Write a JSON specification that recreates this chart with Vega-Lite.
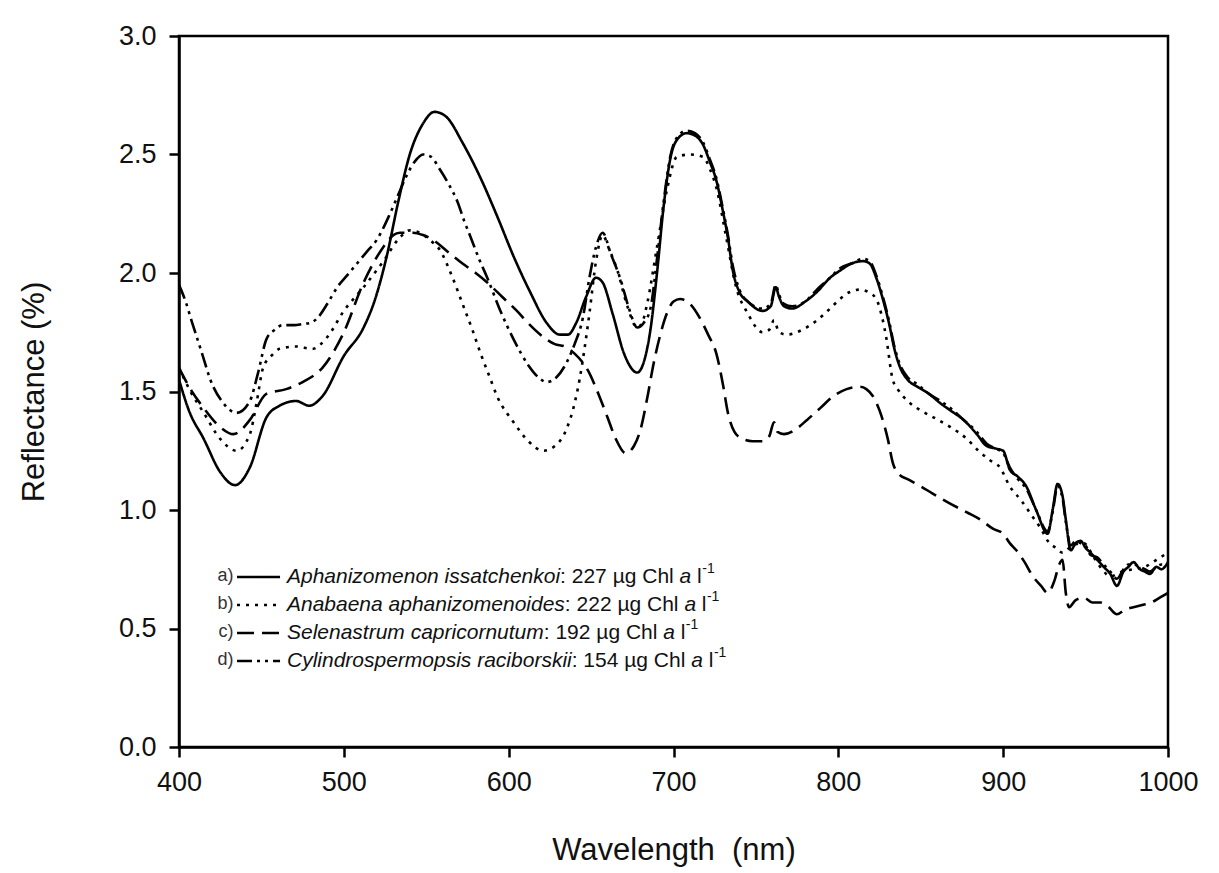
{
  "$schema": "https://vega.github.io/schema/vega-lite/v6.json",
  "autosize": "none",
  "width": 989,
  "height": 711,
  "padding": {"left": 179, "top": 36, "right": 51, "bottom": 126},
  "background": "white",
  "config": {
    "view": {"stroke": "black", "strokeWidth": 2.5},
    "font": "Liberation Sans",
    "axis": {"grid": false, "domainColor": "black", "domainWidth": 2.5, "tickColor": "black", "tickWidth": 2.5, "tickSize": 10, "labelColor": "#111", "labelFont": "Liberation Sans", "labelFontSize": 27, "labelFlush": false, "titleFont": "Liberation Sans", "titleFontSize": 31, "titleFontWeight": "normal", "titleColor": "#111"}
  },
  "datasets": {
    "curves": [
      {"s":"a","w":400,"r":1.55},{"s":"a","w":406,"r":1.42},{"s":"a","w":415,"r":1.30},{"s":"a","w":425,"r":1.16},{"s":"a","w":434,"r":1.105},{"s":"a","w":443,"r":1.18},{"s":"a","w":453,"r":1.39},{"s":"a","w":461,"r":1.44},{"s":"a","w":471,"r":1.46},{"s":"a","w":479,"r":1.44},{"s":"a","w":487,"r":1.48},{"s":"a","w":500,"r":1.65},{"s":"a","w":512,"r":1.77},{"s":"a","w":519,"r":1.89},{"s":"a","w":526,"r":2.07},{"s":"a","w":533,"r":2.30},{"s":"a","w":540,"r":2.50},{"s":"a","w":548,"r":2.63},{"s":"a","w":555,"r":2.68},{"s":"a","w":562,"r":2.66},{"s":"a","w":572,"r":2.55},{"s":"a","w":583,"r":2.40},{"s":"a","w":593,"r":2.24},{"s":"a","w":603,"r":2.07},{"s":"a","w":613,"r":1.92},{"s":"a","w":623,"r":1.79},{"s":"a","w":631,"r":1.74},{"s":"a","w":636,"r":1.74},{"s":"a","w":641,"r":1.79},{"s":"a","w":647,"r":1.90},{"s":"a","w":653,"r":1.98},{"s":"a","w":657,"r":1.96},{"s":"a","w":663,"r":1.83},{"s":"a","w":670,"r":1.66},{"s":"a","w":678,"r":1.58},{"s":"a","w":683,"r":1.65},{"s":"a","w":686,"r":1.76},{"s":"a","w":690,"r":2.00},{"s":"a","w":694,"r":2.28},{"s":"a","w":698,"r":2.48},{"s":"a","w":703,"r":2.57},{"s":"a","w":708,"r":2.59},{"s":"a","w":713,"r":2.58},{"s":"a","w":718,"r":2.54},{"s":"a","w":722,"r":2.47},{"s":"a","w":726,"r":2.39},{"s":"a","w":730,"r":2.26},{"s":"a","w":733,"r":2.15},{"s":"a","w":736,"r":2.01},{"s":"a","w":740,"r":1.92},{"s":"a","w":745,"r":1.88},{"s":"a","w":754,"r":1.84},{"s":"a","w":759,"r":1.86},{"s":"a","w":762,"r":1.94},{"s":"a","w":764,"r":1.90},{"s":"a","w":767,"r":1.86},{"s":"a","w":772,"r":1.85},{"s":"a","w":780,"r":1.88},{"s":"a","w":787,"r":1.92},{"s":"a","w":795,"r":1.98},{"s":"a","w":801,"r":2.01},{"s":"a","w":808,"r":2.04},{"s":"a","w":815,"r":2.05},{"s":"a","w":819,"r":2.04},{"s":"a","w":823,"r":1.98},{"s":"a","w":827,"r":1.89},{"s":"a","w":831,"r":1.78},{"s":"a","w":834,"r":1.68},{"s":"a","w":837,"r":1.61},{"s":"a","w":842,"r":1.55},{"s":"a","w":848,"r":1.52},{"s":"a","w":855,"r":1.49},{"s":"a","w":862,"r":1.45},{"s":"a","w":868,"r":1.42},{"s":"a","w":876,"r":1.38},{"s":"a","w":884,"r":1.32},{"s":"a","w":890,"r":1.27},{"s":"a","w":895,"r":1.26},{"s":"a","w":900,"r":1.25},{"s":"a","w":904,"r":1.17},{"s":"a","w":909,"r":1.14},{"s":"a","w":914,"r":1.10},{"s":"a","w":920,"r":1.00},{"s":"a","w":927,"r":0.90},{"s":"a","w":930,"r":1.00},{"s":"a","w":933,"r":1.11},{"s":"a","w":936,"r":1.06},{"s":"a","w":938,"r":0.96},{"s":"a","w":941,"r":0.83},{"s":"a","w":944,"r":0.86},{"s":"a","w":947,"r":0.87},{"s":"a","w":950,"r":0.84},{"s":"a","w":953,"r":0.82},{"s":"a","w":957,"r":0.79},{"s":"a","w":961,"r":0.76},{"s":"a","w":965,"r":0.73},{"s":"a","w":969,"r":0.68},{"s":"a","w":973,"r":0.74},{"s":"a","w":976,"r":0.76},{"s":"a","w":979,"r":0.78},{"s":"a","w":983,"r":0.75},{"s":"a","w":986,"r":0.74},{"s":"a","w":989,"r":0.73},{"s":"a","w":993,"r":0.76},{"s":"a","w":996,"r":0.75},{"s":"a","w":1000,"r":0.78},
      {"s":"b","w":400,"r":1.60},{"s":"b","w":407,"r":1.50},{"s":"b","w":415,"r":1.41},{"s":"b","w":425,"r":1.30},{"s":"b","w":435,"r":1.25},{"s":"b","w":443,"r":1.32},{"s":"b","w":447,"r":1.45},{"s":"b","w":451,"r":1.60},{"s":"b","w":456,"r":1.65},{"s":"b","w":461,"r":1.68},{"s":"b","w":471,"r":1.69},{"s":"b","w":481,"r":1.68},{"s":"b","w":490,"r":1.73},{"s":"b","w":500,"r":1.84},{"s":"b","w":512,"r":1.94},{"s":"b","w":524,"r":2.05},{"s":"b","w":534,"r":2.15},{"s":"b","w":540,"r":2.18},{"s":"b","w":546,"r":2.17},{"s":"b","w":552,"r":2.14},{"s":"b","w":558,"r":2.10},{"s":"b","w":566,"r":1.98},{"s":"b","w":572,"r":1.87},{"s":"b","w":578,"r":1.76},{"s":"b","w":583,"r":1.66},{"s":"b","w":588,"r":1.57},{"s":"b","w":593,"r":1.48},{"s":"b","w":603,"r":1.37},{"s":"b","w":612,"r":1.29},{"s":"b","w":621,"r":1.25},{"s":"b","w":628,"r":1.27},{"s":"b","w":635,"r":1.34},{"s":"b","w":640,"r":1.45},{"s":"b","w":643,"r":1.55},{"s":"b","w":646,"r":1.68},{"s":"b","w":649,"r":1.83},{"s":"b","w":653,"r":2.05},{"s":"b","w":657,"r":2.16},{"s":"b","w":661,"r":2.10},{"s":"b","w":666,"r":2.01},{"s":"b","w":672,"r":1.86},{"s":"b","w":678,"r":1.77},{"s":"b","w":681,"r":1.79},{"s":"b","w":684,"r":1.87},{"s":"b","w":690,"r":2.11},{"s":"b","w":696,"r":2.35},{"s":"b","w":702,"r":2.49},{"s":"b","w":710,"r":2.50},{"s":"b","w":718,"r":2.49},{"s":"b","w":722,"r":2.44},{"s":"b","w":726,"r":2.36},{"s":"b","w":732,"r":2.15},{"s":"b","w":738,"r":1.94},{"s":"b","w":745,"r":1.83},{"s":"b","w":754,"r":1.75},{"s":"b","w":758,"r":1.76},{"s":"b","w":761,"r":1.80},{"s":"b","w":764,"r":1.75},{"s":"b","w":769,"r":1.74},{"s":"b","w":778,"r":1.76},{"s":"b","w":787,"r":1.80},{"s":"b","w":795,"r":1.85},{"s":"b","w":801,"r":1.89},{"s":"b","w":807,"r":1.92},{"s":"b","w":813,"r":1.93},{"s":"b","w":818,"r":1.92},{"s":"b","w":823,"r":1.89},{"s":"b","w":827,"r":1.80},{"s":"b","w":829,"r":1.73},{"s":"b","w":833,"r":1.55},{"s":"b","w":837,"r":1.50},{"s":"b","w":842,"r":1.46},{"s":"b","w":850,"r":1.42},{"s":"b","w":858,"r":1.39},{"s":"b","w":868,"r":1.35},{"s":"b","w":878,"r":1.30},{"s":"b","w":885,"r":1.25},{"s":"b","w":892,"r":1.21},{"s":"b","w":898,"r":1.18},{"s":"b","w":904,"r":1.10},{"s":"b","w":911,"r":1.04},{"s":"b","w":918,"r":0.97},{"s":"b","w":923,"r":0.92},{"s":"b","w":927,"r":0.87},{"s":"b","w":932,"r":0.84},{"s":"b","w":936,"r":0.82},{"s":"b","w":942,"r":0.85},{"s":"b","w":949,"r":0.86},{"s":"b","w":955,"r":0.80},{"s":"b","w":960,"r":0.75},{"s":"b","w":965,"r":0.72},{"s":"b","w":972,"r":0.74},{"s":"b","w":979,"r":0.75},{"s":"b","w":986,"r":0.76},{"s":"b","w":993,"r":0.79},{"s":"b","w":1000,"r":0.82},
      {"s":"c","w":400,"r":1.60},{"s":"c","w":407,"r":1.51},{"s":"c","w":415,"r":1.43},{"s":"c","w":425,"r":1.35},{"s":"c","w":433,"r":1.32},{"s":"c","w":443,"r":1.38},{"s":"c","w":453,"r":1.49},{"s":"c","w":465,"r":1.51},{"s":"c","w":475,"r":1.54},{"s":"c","w":487,"r":1.60},{"s":"c","w":500,"r":1.75},{"s":"c","w":512,"r":1.96},{"s":"c","w":524,"r":2.11},{"s":"c","w":530,"r":2.16},{"s":"c","w":534,"r":2.17},{"s":"c","w":542,"r":2.17},{"s":"c","w":548,"r":2.16},{"s":"c","w":554,"r":2.14},{"s":"c","w":563,"r":2.09},{"s":"c","w":572,"r":2.04},{"s":"c","w":580,"r":2.00},{"s":"c","w":587,"r":1.96},{"s":"c","w":596,"r":1.90},{"s":"c","w":605,"r":1.84},{"s":"c","w":613,"r":1.78},{"s":"c","w":621,"r":1.73},{"s":"c","w":628,"r":1.70},{"s":"c","w":634,"r":1.69},{"s":"c","w":640,"r":1.66},{"s":"c","w":648,"r":1.59},{"s":"c","w":655,"r":1.48},{"s":"c","w":660,"r":1.39},{"s":"c","w":665,"r":1.30},{"s":"c","w":671,"r":1.24},{"s":"c","w":676,"r":1.27},{"s":"c","w":680,"r":1.34},{"s":"c","w":684,"r":1.47},{"s":"c","w":688,"r":1.62},{"s":"c","w":692,"r":1.74},{"s":"c","w":696,"r":1.83},{"s":"c","w":700,"r":1.88},{"s":"c","w":704,"r":1.89},{"s":"c","w":710,"r":1.87},{"s":"c","w":716,"r":1.81},{"s":"c","w":721,"r":1.74},{"s":"c","w":726,"r":1.66},{"s":"c","w":730,"r":1.53},{"s":"c","w":733,"r":1.41},{"s":"c","w":737,"r":1.33},{"s":"c","w":742,"r":1.30},{"s":"c","w":748,"r":1.29},{"s":"c","w":754,"r":1.29},{"s":"c","w":758,"r":1.31},{"s":"c","w":761,"r":1.37},{"s":"c","w":763,"r":1.33},{"s":"c","w":767,"r":1.32},{"s":"c","w":774,"r":1.34},{"s":"c","w":781,"r":1.38},{"s":"c","w":789,"r":1.43},{"s":"c","w":797,"r":1.48},{"s":"c","w":805,"r":1.51},{"s":"c","w":813,"r":1.52},{"s":"c","w":817,"r":1.51},{"s":"c","w":821,"r":1.48},{"s":"c","w":826,"r":1.40},{"s":"c","w":830,"r":1.30},{"s":"c","w":833,"r":1.20},{"s":"c","w":837,"r":1.15},{"s":"c","w":842,"r":1.13},{"s":"c","w":850,"r":1.10},{"s":"c","w":857,"r":1.07},{"s":"c","w":867,"r":1.03},{"s":"c","w":878,"r":0.99},{"s":"c","w":886,"r":0.96},{"s":"c","w":894,"r":0.92},{"s":"c","w":900,"r":0.90},{"s":"c","w":904,"r":0.86},{"s":"c","w":908,"r":0.83},{"s":"c","w":913,"r":0.78},{"s":"c","w":918,"r":0.72},{"s":"c","w":923,"r":0.68},{"s":"c","w":927,"r":0.65},{"s":"c","w":931,"r":0.70},{"s":"c","w":934,"r":0.77},{"s":"c","w":936,"r":0.79},{"s":"c","w":938,"r":0.65},{"s":"c","w":940,"r":0.59},{"s":"c","w":944,"r":0.62},{"s":"c","w":949,"r":0.63},{"s":"c","w":954,"r":0.61},{"s":"c","w":959,"r":0.61},{"s":"c","w":964,"r":0.59},{"s":"c","w":969,"r":0.56},{"s":"c","w":974,"r":0.58},{"s":"c","w":979,"r":0.59},{"s":"c","w":985,"r":0.60},{"s":"c","w":990,"r":0.61},{"s":"c","w":995,"r":0.63},{"s":"c","w":1000,"r":0.65},
      {"s":"d","w":400,"r":1.95},{"s":"d","w":404,"r":1.88},{"s":"d","w":408,"r":1.79},{"s":"d","w":414,"r":1.66},{"s":"d","w":419,"r":1.55},{"s":"d","w":427,"r":1.45},{"s":"d","w":435,"r":1.41},{"s":"d","w":443,"r":1.46},{"s":"d","w":448,"r":1.58},{"s":"d","w":453,"r":1.72},{"s":"d","w":458,"r":1.76},{"s":"d","w":463,"r":1.78},{"s":"d","w":470,"r":1.78},{"s":"d","w":475,"r":1.785},{"s":"d","w":480,"r":1.79},{"s":"d","w":484,"r":1.81},{"s":"d","w":490,"r":1.87},{"s":"d","w":496,"r":1.94},{"s":"d","w":502,"r":1.99},{"s":"d","w":508,"r":2.04},{"s":"d","w":514,"r":2.09},{"s":"d","w":520,"r":2.14},{"s":"d","w":528,"r":2.25},{"s":"d","w":533,"r":2.33},{"s":"d","w":538,"r":2.41},{"s":"d","w":543,"r":2.47},{"s":"d","w":548,"r":2.50},{"s":"d","w":553,"r":2.49},{"s":"d","w":558,"r":2.44},{"s":"d","w":564,"r":2.37},{"s":"d","w":569,"r":2.30},{"s":"d","w":573,"r":2.22},{"s":"d","w":577,"r":2.15},{"s":"d","w":582,"r":2.06},{"s":"d","w":587,"r":1.98},{"s":"d","w":595,"r":1.84},{"s":"d","w":603,"r":1.72},{"s":"d","w":612,"r":1.61},{"s":"d","w":618,"r":1.56},{"s":"d","w":623,"r":1.54},{"s":"d","w":629,"r":1.56},{"s":"d","w":635,"r":1.62},{"s":"d","w":640,"r":1.70},{"s":"d","w":645,"r":1.81},{"s":"d","w":649,"r":1.98},{"s":"d","w":653,"r":2.11},{"s":"d","w":657,"r":2.17},{"s":"d","w":662,"r":2.08},{"s":"d","w":668,"r":1.97},{"s":"d","w":673,"r":1.85},{"s":"d","w":678,"r":1.77},{"s":"d","w":682,"r":1.79},{"s":"d","w":686,"r":1.85},{"s":"d","w":690,"r":2.06},{"s":"d","w":694,"r":2.30},{"s":"d","w":698,"r":2.49},{"s":"d","w":703,"r":2.58},{"s":"d","w":708,"r":2.60},{"s":"d","w":713,"r":2.59},{"s":"d","w":718,"r":2.55},{"s":"d","w":722,"r":2.48},{"s":"d","w":726,"r":2.40},{"s":"d","w":730,"r":2.27},{"s":"d","w":733,"r":2.16},{"s":"d","w":736,"r":2.03},{"s":"d","w":740,"r":1.93},{"s":"d","w":745,"r":1.88},{"s":"d","w":754,"r":1.85},{"s":"d","w":759,"r":1.87},{"s":"d","w":762,"r":1.95},{"s":"d","w":764,"r":1.91},{"s":"d","w":767,"r":1.87},{"s":"d","w":772,"r":1.86},{"s":"d","w":780,"r":1.88},{"s":"d","w":787,"r":1.93},{"s":"d","w":795,"r":1.98},{"s":"d","w":801,"r":2.02},{"s":"d","w":808,"r":2.04},{"s":"d","w":815,"r":2.06},{"s":"d","w":819,"r":2.05},{"s":"d","w":823,"r":1.99},{"s":"d","w":827,"r":1.90},{"s":"d","w":831,"r":1.79},{"s":"d","w":834,"r":1.69},{"s":"d","w":837,"r":1.62},{"s":"d","w":842,"r":1.56},{"s":"d","w":848,"r":1.53},{"s":"d","w":855,"r":1.49},{"s":"d","w":862,"r":1.46},{"s":"d","w":868,"r":1.43},{"s":"d","w":876,"r":1.38},{"s":"d","w":884,"r":1.33},{"s":"d","w":890,"r":1.28},{"s":"d","w":895,"r":1.26},{"s":"d","w":900,"r":1.24},{"s":"d","w":904,"r":1.18},{"s":"d","w":909,"r":1.13},{"s":"d","w":914,"r":1.09},{"s":"d","w":920,"r":1.00},{"s":"d","w":927,"r":0.91},{"s":"d","w":930,"r":0.99},{"s":"d","w":933,"r":1.10},{"s":"d","w":936,"r":1.05},{"s":"d","w":938,"r":0.95},{"s":"d","w":941,"r":0.85},{"s":"d","w":944,"r":0.87},{"s":"d","w":947,"r":0.86},{"s":"d","w":950,"r":0.85},{"s":"d","w":953,"r":0.81},{"s":"d","w":957,"r":0.80},{"s":"d","w":961,"r":0.77},{"s":"d","w":965,"r":0.74},{"s":"d","w":969,"r":0.71},{"s":"d","w":973,"r":0.75},{"s":"d","w":976,"r":0.77},{"s":"d","w":979,"r":0.77},{"s":"d","w":983,"r":0.76},{"s":"d","w":986,"r":0.75},{"s":"d","w":989,"r":0.74},{"s":"d","w":993,"r":0.76},{"s":"d","w":996,"r":0.77},{"s":"d","w":1000,"r":0.77}
    ],
    "legendLines": [
      {"s":"a","w":435.2,"w2":461.3,"r":0.717},
      {"s":"b","w":435.2,"w2":461.3,"r":0.599},
      {"s":"c","w":435.2,"w2":461.3,"r":0.481},
      {"s":"d","w":435.2,"w2":461.3,"r":0.363}
    ],
    "legendTags": [
      {"t":"a)","w":433.0,"r":0.722},
      {"t":"b)","w":433.0,"r":0.604},
      {"t":"c)","w":433.0,"r":0.486},
      {"t":"d)","w":433.0,"r":0.368}
    ],
    "legendItalic": [
      {"t":"Aphanizomenon issatchenkoi","w":465.5,"r":0.717},
      {"t":"Anabaena aphanizomenoides","w":465.5,"r":0.599},
      {"t":"Selenastrum capricornutum","w":465.5,"r":0.481},
      {"t":"Cylindrospermopsis raciborskii","w":465.5,"r":0.363},
      {"t":"a","w":703.7,"r":0.717},
      {"t":"a","w":706.6,"r":0.599},
      {"t":"a","w":693.8,"r":0.481},
      {"t":"a","w":710.7,"r":0.363}
    ],
    "legendRegular": [
      {"t":": 227 µg Chl","w":631.2,"r":0.717},
      {"t":": 222 µg Chl","w":634.1,"r":0.599},
      {"t":": 192 µg Chl","w":621.3,"r":0.481},
      {"t":": 154 µg Chl","w":638.2,"r":0.363},
      {"t":"l","w":714.3,"r":0.717},
      {"t":"l","w":717.2,"r":0.599},
      {"t":"l","w":704.4,"r":0.481},
      {"t":"l","w":721.4,"r":0.363}
    ],
    "legendSup": [
      {"t":"-1","w":717.5,"r":0.717},
      {"t":"-1","w":720.3,"r":0.599},
      {"t":"-1","w":707.5,"r":0.481},
      {"t":"-1","w":724.5,"r":0.363}
    ]
  },
  "layer": [
    {
      "data": {"name": "curves"},
      "mark": {"type": "line", "interpolate": "monotone", "strokeWidth": 2.6, "color": "black", "clip": true},
      "encoding": {
        "x": {"field": "w", "type": "quantitative", "scale": {"domain": [400, 1000], "nice": false, "zero": false},
              "axis": {"title": "Wavelength\u00a0 (nm)", "values": [400,500,600,700,800,900,1000], "format": "d", "labelPadding": 12, "titlePadding": 40}},
        "y": {"field": "r", "type": "quantitative", "scale": {"domain": [0, 3], "nice": false},
              "axis": {"title": "Reflectance (%)", "values": [0,0.5,1,1.5,2,2.5,3], "format": ".1f", "labelPadding": 13, "titlePadding": 68}},
        "strokeDash": {"field": "s", "type": "nominal", "legend": null,
              "scale": {"domain": ["a","b","c","d"], "range": [[1,0],[3,6],[17,8],[15,5,3,5,3,5]]}}
      }
    },
    {
      "data": {"name": "legendLines"},
      "mark": {"type": "rule", "strokeWidth": 2.6, "color": "black"},
      "encoding": {
        "x": {"field": "w", "type": "quantitative"},
        "x2": {"field": "w2"},
        "y": {"field": "r", "type": "quantitative"},
        "strokeDash": {"field": "s", "type": "nominal", "legend": null}
      }
    },
    {
      "data": {"name": "legendTags"},
      "mark": {"type": "text", "align": "right", "baseline": "middle", "fontSize": 18, "color": "#333", "font": "Liberation Sans"},
      "encoding": {
        "x": {"field": "w", "type": "quantitative"},
        "y": {"field": "r", "type": "quantitative"},
        "text": {"field": "t"}
      }
    },
    {
      "data": {"name": "legendItalic"},
      "mark": {"type": "text", "align": "left", "baseline": "middle", "fontSize": 21, "fontStyle": "italic", "color": "#111", "font": "Liberation Sans"},
      "encoding": {
        "x": {"field": "w", "type": "quantitative"},
        "y": {"field": "r", "type": "quantitative"},
        "text": {"field": "t"}
      }
    },
    {
      "data": {"name": "legendRegular"},
      "mark": {"type": "text", "align": "left", "baseline": "middle", "fontSize": 21, "color": "#111", "font": "Liberation Sans"},
      "encoding": {
        "x": {"field": "w", "type": "quantitative"},
        "y": {"field": "r", "type": "quantitative"},
        "text": {"field": "t"}
      }
    },
    {
      "data": {"name": "legendSup"},
      "mark": {"type": "text", "align": "left", "baseline": "middle", "fontSize": 14, "dy": -8, "color": "#111", "font": "Liberation Sans"},
      "encoding": {
        "x": {"field": "w", "type": "quantitative"},
        "y": {"field": "r", "type": "quantitative"},
        "text": {"field": "t"}
      }
    }
  ]
}
